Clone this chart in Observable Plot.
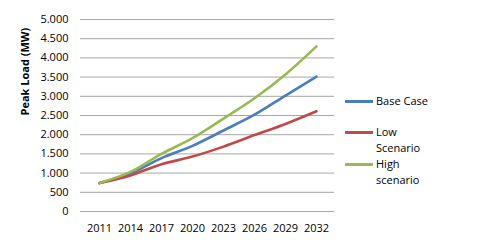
<!DOCTYPE html>
<html>
<head>
<meta charset="utf-8">
<script src="https://cdn.jsdelivr.net/npm/d3@7"></script>
<script src="https://cdn.jsdelivr.net/npm/@observablehq/plot@0.6"></script>
<style>
  body { margin: 0; background: #fff; }
  #wrap { position: relative; width: 496px; height: 249px; font-family: "Open Sans", sans-serif; }
  .leg { position: absolute; left: 345px; font-size: 11px; line-height: 16.5px; color: #000; }
  .leg .sw { position: absolute; left: 0; top: 7px; width: 28px; height: 3px; }
  .leg .tx { position: absolute; left: 31px; white-space: nowrap; }
</style>
</head>
<body>
<div id="wrap"></div>
<script>
const years = ["2011", "2014", "2017", "2020", "2023", "2026", "2029", "2032"];
const baseCase = [740, 990, 1390, 1710, 2110, 2520, 3020, 3510];
const lowScenario = [740, 940, 1230, 1430, 1690, 1990, 2280, 2610];
const highScenario = [740, 1030, 1500, 1910, 2420, 2950, 3570, 4300];
const seriesNames = ["Base Case", "Low Scenario", "High scenario"];
const legendLines = [["Base Case"], ["Low", "Scenario"], ["High", "scenario"]];
const seriesColors = ["#4a7ebb", "#be4b48", "#98b954"];
const yTicks = [0, 500, 1000, 1500, 2000, 2500, 3000, 3500, 4000, 4500, 5000];
const yTitle = "Peak Load (MW)";

const seriesValues = [baseCase, lowScenario, highScenario];
const rows = seriesNames.flatMap((s, i) => years.map((y, j) => ({series: s, year: y, value: seriesValues[i][j]})));
const fmt = d3.formatLocale({decimal: ",", thousands: ".", grouping: [3], currency: ["", ""]}).format(",");

const chart = Plot.plot({
  width: 496,
  height: 249,
  marginLeft: 80,
  marginRight: 162,
  marginTop: 19,
  marginBottom: 38,
  style: {fontFamily: "Open Sans, sans-serif", fontSize: "11px", color: "#000", background: "transparent"},
  x: {type: "point", domain: years, padding: 0.5},
  y: {domain: [0, 5000]},
  color: {domain: seriesNames, range: seriesColors},
  marks: [
    Plot.gridY(yTicks, {stroke: "#a6a6a6", strokeOpacity: 1, strokeWidth: 1}),
    Plot.ruleX([0], {frameAnchor: "left", stroke: "#a6a6a6"}),
    Plot.axisY(yTicks, {tickSize: 0, tickPadding: 12, tickFormat: fmt, label: null, fontSize: 11}),
    Plot.axisX({tickSize: 0, tickPadding: 13, label: null, fontSize: 11}),
    Plot.text([yTitle], {frameAnchor: "left", rotate: -90, dx: -55, fontWeight: "bold", fontSize: 11, fill: "#000"}),
    Plot.line(rows, {x: "year", y: "value", z: "series", stroke: "series", strokeWidth: 2.6, curve: "monotone-x"})
  ]
});
const wrap = document.getElementById("wrap");
wrap.appendChild(chart);

const legendCenters = [101, 132, 164];
legendLines.forEach((lines, i) => {
  const d = document.createElement("div");
  d.className = "leg";
  d.style.top = (legendCenters[i] - 8.25) + "px";
  const sw = document.createElement("div");
  sw.className = "sw";
  sw.style.background = seriesColors[i];
  d.appendChild(sw);
  const tx = document.createElement("div");
  tx.className = "tx";
  tx.innerHTML = lines.join("<br>");
  d.appendChild(tx);
  wrap.appendChild(d);
});
</script>
</body>
</html>
